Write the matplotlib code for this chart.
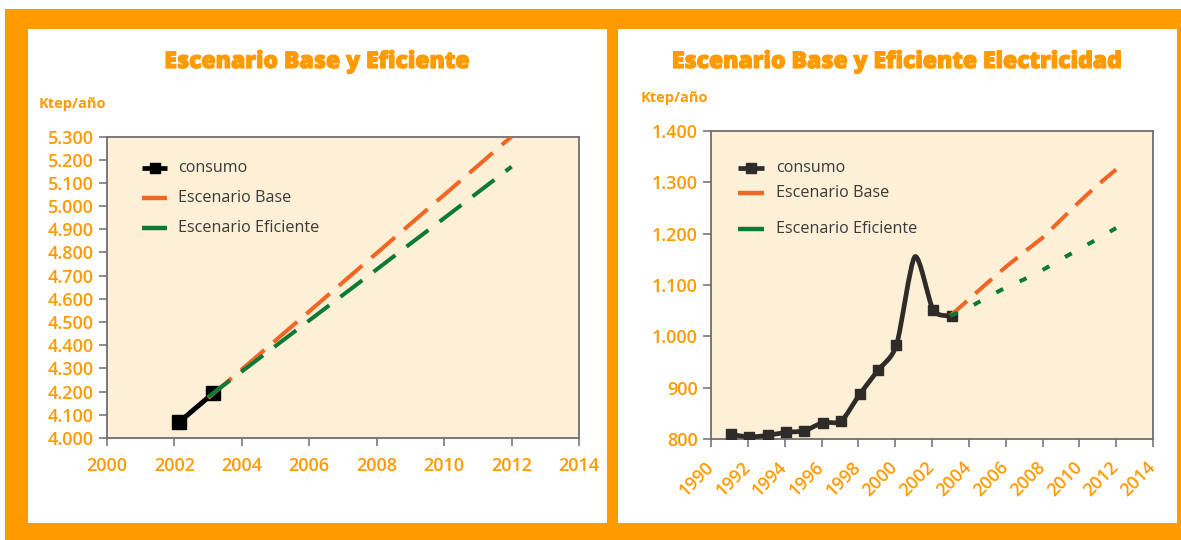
import numpy as np
import matplotlib
matplotlib.use("Agg")
import matplotlib.pyplot as plt
import matplotlib.patheffects as pe
from matplotlib.path import Path
from matplotlib.patches import PathPatch, Rectangle

# ---- data -------------------------------------------------------------
left_cons_years = [2002, 2003]
left_cons = [4070, 4193]
left_scen_years = [2003, 2004, 2005, 2006, 2007, 2008, 2009, 2010, 2011, 2012]
left_base = [4172, 4296, 4421, 4546, 4672, 4797, 4923, 5048, 5174, 5300]
left_efic = [4177, 4287, 4397, 4507, 4617, 4727, 4838, 4948, 5059, 5170]

right_cons_years = [1991, 1992, 1993, 1994, 1995, 1996, 1997, 1998, 1999,
                    2000, 2001, 2002, 2003]
right_cons = [809, 804, 807, 813, 816, 832, 835, 887, 934, 983, 1155, 1051, 1040]
right_scen_years = [2003, 2004, 2005, 2006, 2007, 2008, 2009, 2010, 2011, 2012]
right_base = [1040, 1072, 1104, 1135, 1164, 1192, 1227, 1262, 1295, 1325]
right_efic = [1040, 1056, 1076, 1095, 1111, 1129, 1150, 1170, 1190, 1211]

left_yticks = list(range(4000, 5301, 100))
right_yticks = list(range(800, 1401, 100))
xticks_left = list(range(2000, 2015, 2))
xticks_right = list(range(1990, 2015, 2))

title_left = "Escenario Base y Eficiente"
title_right = "Escenario Base y Eficiente Electricidad"
unit_label = "Ktep/año"
legend_labels = ["consumo", "Escenario Base", "Escenario Eficiente"]

# ---- style ------------------------------------------------------------
ORANGE = "#FF9A00"
BASE_C = "#F26522"
EFIC_C = "#0B7A36"
CONS_L = "#000000"
CONS_R = "#2E2B29"
BG = "#FEF0D6"
SPINE = "#6E6E6E"
LEG_TXT = "#3A3A3A"
SANS = ["Open Sans", "DejaVu Sans"]

W, H = 1181, 540
fig = plt.figure(figsize=(W / 100, H / 100), dpi=100)
fig.patch.set_facecolor("white")


# orange frame around the two panels
def band(x0, y0, x1, y1):
    fig.patches.append(Rectangle((x0 / W, 1 - y1 / H), (x1 - x0) / W, (y1 - y0) / H,
                                 transform=fig.transFigure, facecolor=ORANGE,
                                 edgecolor="none", zorder=0))


band(5, 9, 1181, 29)
band(5, 9, 28, 540)
band(607, 9, 618, 540)
band(5, 523, 1181, 540)
band(1177, 9, 1181, 540)


def px_axes(x0, y0, x1, y1):
    return fig.add_axes([x0 / W, 1 - y1 / H, (x1 - x0) / W, (y1 - y0) / H])


def fmt_thousands(v):
    return f"{v:,}".replace(",", ".")


def style_axes(ax):
    ax.set_facecolor(BG)
    for s in ax.spines.values():
        s.set_color(SPINE)
        s.set_linewidth(1.3)
    ax.tick_params(axis="both", direction="out", length=6, width=1.1,
                   color=SPINE, labelcolor=ORANGE, labelsize=13)
    for lab in ax.get_xticklabels() + ax.get_yticklabels():
        lab.set_fontfamily(SANS)
        lab.set_fontweight("semibold")


def smooth_path(xs, ys, k=0.75):
    pts = np.column_stack([xs, ys]).astype(float)
    n = len(pts)
    verts = [pts[0]]
    codes = [Path.MOVETO]
    for i in range(n - 1):
        p0 = pts[i - 1] if i > 0 else pts[i]
        p1 = pts[i]
        p2 = pts[i + 1]
        p3 = pts[i + 2] if i + 2 < n else pts[i + 1]
        verts += [p1 + k * (p2 - p0) / 6.0, p2 - k * (p3 - p1) / 6.0, p2]
        codes += [Path.CURVE4] * 3
    return Path(verts, codes)


def draw_legend(ax, hx0, hx1, tx, rows, cons_color, cons_ms):
    kw = dict(transform=ax.transAxes, clip_on=False, zorder=6)
    y0, y1, y2 = rows
    ax.plot([hx0, hx1], [y0, y0], color=cons_color, lw=3.4, solid_capstyle="butt", **kw)
    ax.plot([(hx0 + hx1) / 2], [y0], marker="s", ms=cons_ms, color=cons_color, **kw)
    ax.plot([hx0, hx1], [y1, y1], color=BASE_C, lw=3.2, solid_capstyle="butt", **kw)
    ax.plot([hx0, hx1], [y2, y2], color=EFIC_C, lw=3.2, solid_capstyle="butt", **kw)
    for y, t in zip(rows, legend_labels):
        ax.text(tx, y, t, transform=ax.transAxes, ha="left", va="center",
                fontsize=11.6, color=LEG_TXT, family=SANS)


def heavy_title(x, y, text):
    fig.text(x / W, 1 - y / H, text, ha="center", va="center",
             fontsize=16.5, fontweight=800, color=ORANGE,
             family=["Open Sans", "DejaVu Sans"],
             path_effects=[pe.withStroke(linewidth=0.9, foreground=ORANGE)])


def unit_text(x, y):
    fig.text(x / W, 1 - y / H, unit_label, ha="left", va="center",
             fontsize=10.5, fontweight="bold", color=ORANGE, family=SANS)


# ---- left panel -------------------------------------------------------
axL = px_axes(107, 136.5, 579, 438)
axL.set_xlim(2000, 2014)
axL.set_ylim(4000, 5300)
axL.set_xticks(xticks_left)
axL.set_yticks(left_yticks)
axL.set_yticklabels([fmt_thousands(v) for v in left_yticks])
style_axes(axL)
axL.tick_params(axis="x", pad=8)

axL.plot(np.array(left_cons_years) + 0.15, left_cons, color=CONS_L, lw=3.6,
         marker="s", ms=9.5, zorder=3)
axL.plot(left_scen_years, left_base, color=BASE_C, lw=2.9,
         dashes=(7.7, 3.0), zorder=4)
axL.plot(left_scen_years, left_efic, color=EFIC_C, lw=2.9,
         dashes=(6.8, 3.5), zorder=5)

draw_legend(axL, 0.0742, 0.1271, 0.150, (0.8955, 0.7960, 0.6965), CONS_L, 7.5)
heavy_title(317, 62, title_left)
unit_text(39, 104)

# ---- right panel ------------------------------------------------------
axR = px_axes(711, 131, 1153, 439)
axR.set_xlim(1990, 2014)
axR.set_ylim(800, 1400)
axR.set_xticks(xticks_right)
axR.set_yticks(right_yticks)
axR.set_yticklabels([fmt_thousands(v) for v in right_yticks])
style_axes(axR)
for lab in axR.get_xticklabels():
    lab.set_rotation(45)
    lab.set_ha("right")
    lab.set_va("center")
    lab.set_rotation_mode("anchor")
axR.tick_params(axis="x", pad=12)

rx = np.array(right_cons_years) + 0.07
axR.add_patch(PathPatch(smooth_path(rx, right_cons), facecolor="none",
                        edgecolor=CONS_R, lw=3.4, joinstyle="round",
                        capstyle="round", zorder=3))
marked = [i for i, y in enumerate(right_cons_years) if y != 2001]
axR.plot(rx[marked], np.array(right_cons)[marked], ls="none", marker="s",
         ms=7.5, color=CONS_R, zorder=3)
axR.plot(right_scen_years, right_base, color=BASE_C, lw=2.9,
         dashes=(5.5, 2.8), zorder=4)
axR.plot(right_scen_years, right_efic, color=EFIC_C, lw=2.9,
         dashes=(1.9, 4.5), zorder=4)

draw_legend(axR, 0.0611, 0.1199, 0.147, (0.8799, 0.7987, 0.6818), CONS_R, 7.0)
heavy_title(897, 62, title_right)
unit_text(641, 98)

fig.savefig("out.png", dpi=100, facecolor="white")
